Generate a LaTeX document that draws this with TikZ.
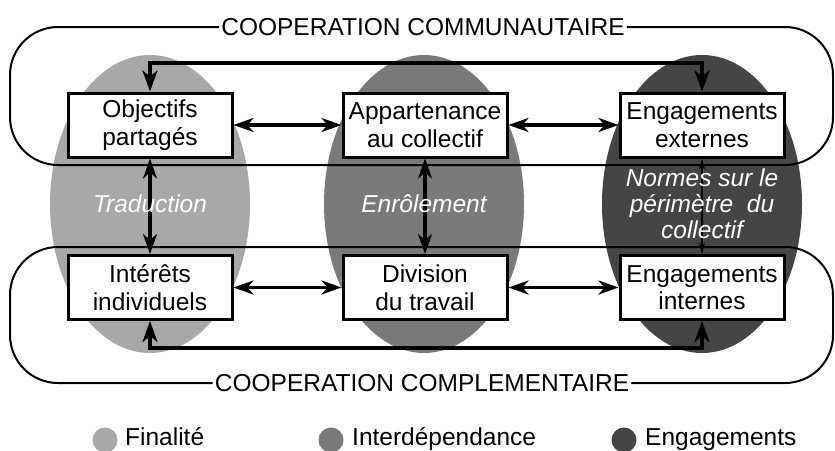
\documentclass[tikz,border=0pt]{standalone}
\usepackage{fontspec}
\setmainfont{Liberation Sans}
\usetikzlibrary{arrows.meta,shapes.geometric}
\definecolor{gA}{HTML}{A8A8A8}
\definecolor{gB}{HTML}{7A7A7A}
\definecolor{gC}{HTML}{454545}
\begin{document}
\begin{tikzpicture}[x=1pt,y=-1pt,
  font=\fontsize{24.5}{27.5}\selectfont,
  box/.style={draw, line width=3pt, fill=white, minimum width=164pt, minimum height=64pt, align=center, inner sep=0pt},
  ell/.style={ellipse, minimum width=200pt, minimum height=298pt, inner sep=0pt, draw=none},
  frame/.style={line width=2pt, rounded corners=48pt},
  flab/.style={fill=white, inner xsep=2pt, inner ysep=1pt},
  dbl/.style={line width=3.2pt, {Stealth[length=20pt,width=14pt,inset=6pt]}-{Stealth[length=20pt,width=14pt,inset=6pt]}},
  thin dbl/.style={line width=1.5pt, {Stealth[length=11pt,width=6pt]}-{Stealth[length=11pt,width=6pt]}},
  fb/.style={line width=3.6pt, {Stealth[length=21pt,width=15pt,inset=6pt]}-{Stealth[length=21pt,width=15pt,inset=6pt]}},
  elab/.style={text=white, font=\fontsize{24.5}{26}\selectfont\itshape, align=center, inner sep=0pt},
  leg/.style={anchor=base west, inner sep=0pt}
]
\useasboundingbox (0,0) rectangle (835,450);
% ellipses
\node[ell, fill=gA] (e1) at (150,204) {};
\node[ell, fill=gB] (e2) at (424,204) {};
\node[ell, fill=gC] (e3) at (702,204) {};
% frames
\node[flab] (l1) at (423,27) {COOPERATION COMMUNAUTAIRE};
\node[flab] (l2) at (422,383) {COOPERATION COMPLEMENTAIRE};
\draw[frame] (l1.west) -- (10,27) -- (10,165) -- (833,165) -- (833,27) -- (l1.east);
\draw[frame] (l2.west) -- (10,383) -- (10,247) -- (833,247) -- (833,383) -- (l2.east);
% boxes
\node[box] (obj) at (150,125) {Objectifs\\partagés};
\node[box] (app) at (425,125) {Appartenance\\au collectif};
\node[box] (eext) at (702,125) {Engagements\\externes};
\node[box] (int) at (150,287.5) {Intérêts\\individuels};
\node[box] (div) at (425,287.5) {Division\\du travail};
\node[box] (eint) at (702,287.5) {Engagements\\internes};
% connectors
\coordinate (ctop) at (0,63);
\coordinate (cbot) at (0,348);
\draw[fb] (obj.north) -- (obj.north |- ctop) -- (eext.north |- ctop) -- (eext.north);
\draw[fb] (int.south) -- (int.south |- cbot) -- (eint.south |- cbot) -- (eint.south);
\draw[dbl] (obj.east) -- (app.west);
\draw[dbl] (app.east) -- (eext.west);
\draw[dbl] (int.east) -- (div.west);
\draw[dbl] (div.east) -- (eint.west);
\draw[dbl] (obj.south) -- (int.north);
\draw[dbl] (app.south) -- (div.north);
\draw[thin dbl] (eext.south) -- (eint.north);
% ellipse labels
\node[elab] (t1) at (150,204) {Traduction};
\node[elab] (t2) at (424,204) {Enrôlement};
\node[elab] (t3) at (702,204) {Normes sur le\\périmètre\ \ du\\collectif};
% legend
\fill[gA] (105,440) circle (12.5);
\node[leg] (k1) at (125,445) {Finalité};
\fill[gB] (331,440) circle (12.5);
\node[leg] (k2) at (352,445) {Interdépendance};
\fill[gC] (624,440) circle (12.5);
\node[leg] (k3) at (645,445) {Engagements};
\end{tikzpicture}
\end{document}
